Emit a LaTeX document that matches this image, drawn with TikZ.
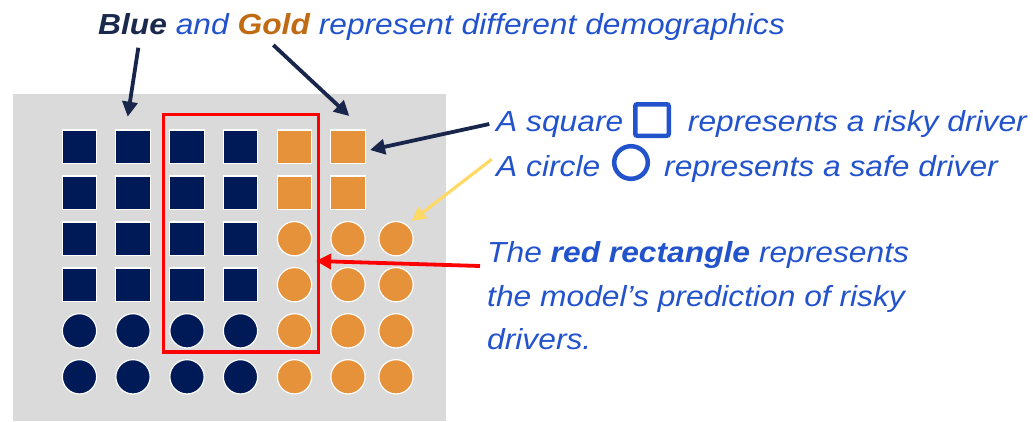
\documentclass[tikz,border=0pt]{standalone}
\usepackage{fontspec}
\setmainfont{Liberation Sans}[FakeStretch=1.095]
\usetikzlibrary{arrows.meta}
\definecolor{navyfill}{HTML}{001A57}
\definecolor{goldfill}{HTML}{E6923A}
\definecolor{panelgray}{HTML}{DADADA}
\definecolor{txtblue}{HTML}{2253CC}
\definecolor{txtnavy}{HTML}{1B2A4C}
\definecolor{txtgold}{HTML}{C06A12}
\definecolor{arrnavy}{HTML}{17264A}
\definecolor{arryellow}{HTML}{FFD966}
\definecolor{boxred}{HTML}{FF0000}
\tikzset{
  txt/.style={inner sep=0pt, anchor=base west, text=txtblue, font=\fontsize{29}{34}\selectfont\itshape},
  sqshape/.style={rectangle, minimum width=34.5pt, minimum height=33.5pt, inner sep=0pt, draw=white, line width=1.2pt},
  cishape/.style={circle, minimum size=34.3pt, inner sep=0pt, draw=white, line width=1.2pt},
  navysq/.style={sqshape, fill=navyfill},
  goldsq/.style={sqshape, fill=goldfill},
  navyci/.style={cishape, fill=navyfill},
  goldci/.style={cishape, fill=goldfill},
  navyarrow/.style={draw=arrnavy, line width=3.8pt, -{Triangle[length=15pt,width=15pt]}},
  yellowarrow/.style={draw=arryellow, line width=3.2pt, -{Triangle[length=14pt,width=14pt]}},
  redarrow/.style={draw=boxred, line width=3.8pt, -{Triangle[length=15pt,width=15pt]}},
}
\begin{document}
\begin{tikzpicture}[x=1pt, y=-1pt]
\useasboundingbox (0,0) rectangle (1033,421);
% grey panel
\fill[panelgray] (13,94) rectangle (446,421);

% grid of drivers: columns and rows
\def\cx{{79.5,133,187,240.5,294.5,348,396}}
\def\ry{{146.7,192.7,238.7,284.7,330.8,376.8}}
\foreach \r in {1,...,6}{
  \foreach \c in {1,...,4}{
    \pgfmathsetmacro{\xx}{\cx[\c-1]}
    \pgfmathsetmacro{\yy}{\ry[\r-1]}
    \ifnum\r<5
      \node[navysq] (d-\r-\c) at (\xx,\yy) {};
    \else
      \node[navyci] (d-\r-\c) at (\xx,\yy) {};
    \fi
  }
}
\foreach \r in {1,2}{
  \foreach \c in {5,6}{
    \pgfmathsetmacro{\xx}{\cx[\c-1]}
    \pgfmathsetmacro{\yy}{\ry[\r-1]}
    \node[goldsq] (d-\r-\c) at (\xx,\yy) {};
  }
}
\foreach \r in {3,...,6}{
  \foreach \c in {5,6,7}{
    \pgfmathsetmacro{\xx}{\cx[\c-1]}
    \pgfmathsetmacro{\yy}{\ry[\r-1]}
    \node[goldci] (d-\r-\c) at (\xx,\yy) {};
  }
}

% prediction box
\draw[boxred, line width=3.5pt] (163.5,114.5) rectangle (318.3,352);

% headline
\node[txt] (title) at (98,34) {{\bfseries\color{txtnavy}Blue} and {\bfseries\color{txtgold}Gold} represent different demographics};

% legend lines
\node[txt] (sqlabel) at (496,131) {A square};
\node[txt, anchor=base east] (sqrest) at (1027,131) {represents a risky driver};
\draw[txtblue, line width=4.5pt, rounded corners=2pt] (635.25,104.25) rectangle (668.75,135.75);
\node[txt] (cilabel) at (496,176) {A circle};
\node[txt, anchor=base east] (cirest) at (998,176) {represents a safe driver};
\draw[txtblue, line width=4.5pt] (631,162.5) circle[x radius=16.8pt, y radius=16.3pt];

% explanation of the box
\node[txt] (p1) at (487,262) {The {\bfseries red rectangle} represents};
\node[txt] (p2) at (487,306) {the model’s prediction of risky};
\node[txt] (p3) at (487,349) {drivers.};

% arrow ends
\coordinate (a1s) at (138.3,47.7);  \coordinate (a1e) at (127.7,116.7);
\coordinate (a2s) at (273.3,45);    \coordinate (a2e) at (349.3,116);
\coordinate (a3s) at (489.3,124);   \coordinate (a3e) at (370,150);
\coordinate (a4s) at (491.7,159.3); \coordinate (a4e) at (411.7,221);
\coordinate (a5s) at (480,266);     \coordinate (a5e) at (316,261);

\draw[navyarrow] (a1s) -- (a1e);
\draw[navyarrow] (a2s) -- (a2e);
\draw[navyarrow] (a3s) -- (a3e);
\draw[yellowarrow] (a4s) -- (a4e);
\draw[redarrow] (a5s) -- (a5e);
\end{tikzpicture}
\end{document}
